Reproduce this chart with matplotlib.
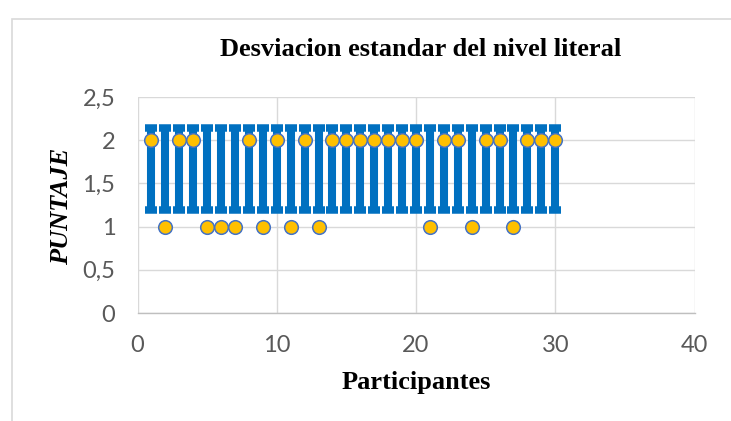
import matplotlib
matplotlib.use("Agg")
import matplotlib.pyplot as plt
from matplotlib.patches import Rectangle
from matplotlib.ticker import FuncFormatter

# Scores per participant
participants = list(range(1, 31))
scores = [2, 1, 2, 2, 1, 1, 1, 2, 1, 2,
          1, 2, 1, 2, 2, 2, 2, 2, 2, 2,
          1, 2, 2, 1, 2, 2, 1, 2, 2, 2]

# Standard deviation band drawn for every participant
band_center = 1.667
band_std = 0.479

x_ticks = [0, 10, 20, 30, 40]
y_ticks = [0, 0.5, 1, 1.5, 2, 2.5]

W, H = 731, 421
fig = plt.figure(figsize=(W / 100, H / 100), dpi=100)

# Light frame around the chart area (runs off the right and bottom edges)
fig.patches.append(Rectangle((12 / W, -0.1), 1.2, (H - 19) / H + 0.1, transform=fig.transFigure,
                             fill=False, edgecolor="#D9D9D9", linewidth=1.2))

ax = fig.add_axes([137.5 / W, 1 - 313 / H, (694.5 - 137.5) / W, (313 - 97) / H])

ax.errorbar(participants, [band_center] * len(participants),
            yerr=[band_std] * len(participants), fmt="none",
            ecolor="#0070C0", elinewidth=5.8, capsize=4.4, capthick=5.4, zorder=3)
ax.plot(participants, scores, linestyle="none", marker="o", markersize=9.8,
        markerfacecolor="#FFC000", markeredgecolor="#4472C4", markeredgewidth=1.1, zorder=4)

ax.set_xlim(0, 40)
ax.set_ylim(0, 2.5)
ax.set_xticks(x_ticks)
ax.set_yticks(y_ticks)
ax.yaxis.set_major_formatter(FuncFormatter(lambda v, p: f"{v:g}".replace(".", ",")))

ax.grid(True, color="#D9D9D9", linewidth=1.0, zorder=0)
ax.set_axisbelow(True)
for side in ["top", "right", "left"]:
    ax.spines[side].set_visible(False)
ax.spines["bottom"].set_color("#BFBFBF")
ax.spines["bottom"].set_linewidth(1.0)
ax.tick_params(axis="x", length=0, labelsize=17, labelcolor="#595959", pad=16)
ax.tick_params(axis="y", length=0, labelsize=17, labelcolor="#595959", pad=16)
for lab in ax.get_xticklabels() + ax.get_yticklabels():
    lab.set_family("Lato")

fig.text(421 / W, 1 - 49 / H, "Desviacion estandar del nivel literal",
         ha="center", va="center", family="Liberation Serif", weight="bold", fontsize=19)
fig.text(416 / W, 1 - 382 / H, "Participantes",
         ha="center", va="center", family="Liberation Serif", weight="bold", fontsize=19)
fig.text(62 / W, 1 - 206 / H, "PUNTAJE", rotation=90,
         ha="center", va="center", family="Liberation Serif", weight="bold",
         style="italic", fontsize=19)

fig.savefig("out.png", dpi=100)
